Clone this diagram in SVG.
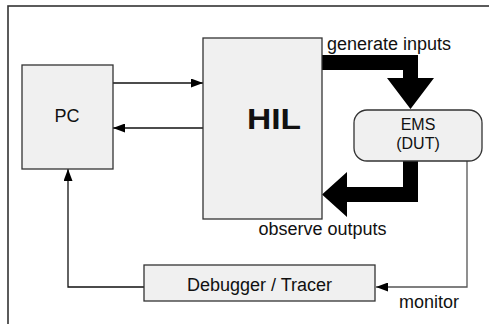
<svg xmlns="http://www.w3.org/2000/svg" width="489" height="324" viewBox="0 0 489 324">
<style>
.box{fill:#f0f0f0;stroke:#333;stroke-width:1.3}
.ln{fill:none;stroke:#111;stroke-width:1.3}
.gl{fill:none;stroke:#555;stroke-width:1.3}
text{font-family:"Liberation Sans",Arial,sans-serif;font-size:18px;fill:#111}
.c{text-anchor:middle}
</style>
<defs>
<marker id="ah" viewBox="0 0 12 9" refX="12" refY="4.5" markerWidth="12" markerHeight="9" markerUnits="userSpaceOnUse" orient="auto">
<path d="M0,0 L12,4.5 L0,9 Z" fill="#000"/>
</marker>
</defs>
<rect x="8" y="6" width="500" height="340" fill="#fff" stroke="#333" stroke-width="1.6"/>
<g id="connectors">
<line class="ln" x1="113" y1="83" x2="203" y2="83" marker-end="url(#ah)"/>
<line class="ln" x1="203" y1="128" x2="113" y2="128" marker-end="url(#ah)"/>
<polyline class="ln" points="144,287 68,287 68,169" marker-end="url(#ah)"/>
<polyline class="gl" points="467,161 467,287 376,287" marker-end="url(#ah)"/>
<polygon id="gen-arrow" points="322,55 418,55 418,78 434,78 410.5,109 387,78 403,78 403,70 322,70" fill="#000"/>
<polygon id="obs-arrow" points="403,161 418,161 418,202 347,202 347,217 322,194.5 347,172 347,187 403,187" fill="#000"/>
<text x="389" y="50" class="c">generate inputs</text>
<text x="322.5" y="235" class="c">observe outputs</text>
<text x="429" y="308" class="c">monitor</text>
</g>
<g id="pc">
<rect class="box" x="22" y="65" width="91" height="104"/>
<text x="67" y="122" class="c">PC</text>
</g>
<g id="hil">
<rect class="box" x="203" y="38" width="119" height="181"/>
<text x="247" y="129" font-weight="bold" style="font-size:29px" textLength="54" lengthAdjust="spacingAndGlyphs">HIL</text>
</g>
<g id="ems">
<rect class="box" x="354" y="110" width="128" height="51" rx="13" ry="13"/>
<text x="418" y="130" class="c" style="font-size:16px">EMS</text>
<text x="418" y="149" class="c" style="font-size:16px">(DUT)</text>
</g>
<g id="debugger">
<rect class="box" x="144" y="265" width="231" height="36"/>
<text x="259.5" y="291" class="c">Debugger / Tracer</text>
</g>
</svg>
